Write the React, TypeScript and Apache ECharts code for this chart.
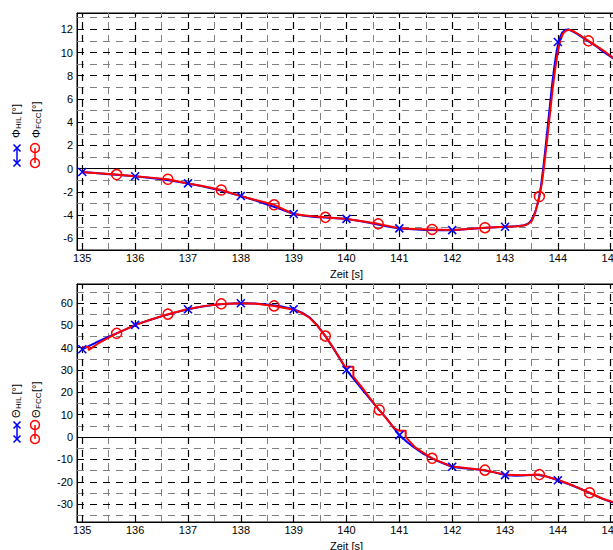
import React, { useEffect, useRef } from 'react';
import * as echarts from 'echarts';

const FONT = '"Liberation Sans", Arial, Helvetica, sans-serif';

// axis ticks / labels
const xMajor = [135, 136, 137, 138, 139, 140, 141, 142, 143, 144, 145];
const xMinor = [135.5, 136.5, 137.5, 138.5, 139.5, 140.5, 141.5, 142.5, 143.5, 144.5];
const phiMajor = [-6, -4, -2, 0, 2, 4, 6, 8, 10, 12];
const phiMinor = [-5, -3, -1, 1, 3, 5, 7, 9, 11, 13];
const thetaMajor = [-30, -20, -10, 0, 10, 20, 30, 40, 50, 60];
const thetaMinor = [-35, -25, -15, -5, 5, 15, 25, 35, 45, 55, 65];

// Phi HIL (blue)
const phiHilT = [135.0, 135.25, 135.5, 135.75, 136.0, 136.25, 136.5, 136.75, 137.0, 137.25, 137.5, 137.75, 138.0, 138.25, 138.5, 138.75, 139.0, 139.2, 139.4, 139.6, 139.8, 140.0, 140.25, 140.5, 140.75, 141.0, 141.25, 141.5, 141.75, 142.0, 142.25, 142.5, 142.75, 143.0, 143.2, 143.35, 143.45, 143.52, 143.58, 143.63, 143.68, 143.73, 143.78, 143.83, 143.88, 143.93, 143.98, 144.03, 144.08, 144.14, 144.2, 144.27, 144.35, 144.45, 144.55, 144.65, 144.75, 144.85, 144.95, 145.05, 145.1];
const phiHilV = [-0.29, -0.38, -0.48, -0.56, -0.65, -0.78, -0.92, -1.08, -1.27, -1.5, -1.76, -2.04, -2.35, -2.7, -3.08, -3.48, -3.9, -4.05, -4.15, -4.2, -4.26, -4.32, -4.5, -4.72, -4.95, -5.14, -5.22, -5.27, -5.29, -5.29, -5.22, -5.12, -5.06, -5.0, -4.96, -4.9, -4.7, -4.3, -3.6, -2.8, -1.5, 0.3, 2.4, 4.6, 6.8, 8.7, 10.2, 11.2, 11.7, 11.95, 11.98, 11.85, 11.65, 11.35, 11.05, 10.75, 10.45, 10.1, 9.8, 9.5, 9.35];
const phiHilMarkT = [135, 136, 137, 138, 139, 140, 141, 142, 143, 144];
const phiHilMarkV = [-0.29, -0.65, -1.27, -2.35, -3.9, -4.32, -5.14, -5.29, -5.0, 10.9];

// Phi FCC (red)
const phiFccT = [135.0, 135.3, 135.65, 136.0, 136.3, 136.62, 137.0, 137.3, 137.63, 138.0, 138.3, 138.63, 139.0, 139.3, 139.6, 140.0, 140.3, 140.6, 141.0, 141.3, 141.62, 142.0, 142.3, 142.62, 143.0, 143.25, 143.4, 143.5, 143.57, 143.65, 143.7, 143.75, 143.8, 143.85, 143.9, 143.95, 144.0, 144.05, 144.1, 144.16, 144.22, 144.3, 144.4, 144.5, 144.58, 144.7, 144.8, 144.9, 145.0, 145.1];
const phiFccV = [-0.3, -0.4, -0.51, -0.66, -0.77, -0.91, -1.28, -1.52, -1.84, -2.36, -2.72, -3.11, -3.9, -4.08, -4.19, -4.33, -4.52, -4.75, -5.12, -5.2, -5.23, -5.28, -5.2, -5.08, -5.0, -4.96, -4.85, -4.55, -3.8, -2.4, -1.2, 0.6, 2.6, 4.7, 6.8, 8.6, 10.1, 11.1, 11.65, 11.9, 11.95, 11.82, 11.55, 11.25, 11.0, 10.65, 10.35, 10.05, 9.7, 9.4];
const phiFccMarkT = [135.65, 136.62, 137.63, 138.63, 139.6, 140.6, 141.62, 142.62, 143.65, 144.58];
const phiFccMarkV = [-0.51, -0.91, -1.84, -3.11, -4.19, -4.75, -5.23, -5.08, -2.4, 11.0];

// Theta HIL (blue)
const thetaHilT = [135.0, 135.25, 135.5, 135.75, 136.0, 136.25, 136.5, 136.75, 137.0, 137.25, 137.5, 137.75, 138.0, 138.25, 138.5, 138.75, 139.0, 139.15, 139.3, 139.45, 139.6, 139.75, 139.9, 140.0, 140.15, 140.3, 140.45, 140.6, 140.75, 140.9, 141.0, 141.15, 141.3, 141.45, 141.6, 141.75, 141.9, 142.0, 142.2, 142.4, 142.6, 142.8, 143.0, 143.2, 143.4, 143.6, 143.8, 144.0, 144.2, 144.4, 144.6, 144.8, 145.0, 145.1];
const thetaHilV = [39.3, 42.2, 44.9, 47.4, 50.2, 52.2, 54.0, 55.7, 57.2, 58.3, 59.2, 59.7, 59.9, 59.8, 59.3, 58.5, 57.2, 55.8, 53.6, 50.0, 45.2, 39.8, 34.0, 30.0, 25.6, 21.2, 16.9, 12.6, 8.6, 3.9, 0.9, -2.3, -5.0, -7.4, -9.3, -11.0, -12.4, -13.3, -13.9, -14.3, -14.8, -15.8, -17.0, -17.3, -17.1, -16.9, -17.7, -19.3, -21.0, -22.9, -25.0, -27.2, -29.0, -29.7];
const thetaHilMarkT = [135, 136, 137, 138, 139, 140, 141, 142, 143, 144];
const thetaHilMarkV = [39.3, 50.2, 57.2, 59.9, 57.2, 30.0, 0.9, -13.3, -17.0, -19.3];

// Theta FCC (red)
const thetaFccT = [135.0, 135.12, 135.12, 135.3, 135.65, 136.0, 136.3, 136.62, 137.0, 137.3, 137.63, 138.0, 138.3, 138.63, 139.0, 139.15, 139.3, 139.45, 139.6, 139.75, 139.9, 139.97, 140.13, 140.13, 140.3, 140.45, 140.62, 140.75, 140.9, 141.0, 141.12, 141.12, 141.3, 141.62, 142.0, 142.3, 142.62, 143.0, 143.3, 143.65, 144.0, 144.3, 144.6, 144.85, 145.1];
const thetaFccV = [40.3, 40.3, 38.9, 41.9, 46.4, 50.1, 52.6, 55.0, 57.3, 58.6, 59.6, 59.9, 59.7, 58.7, 57.0, 55.6, 53.4, 49.8, 45.2, 39.9, 34.3, 31.5, 31.5, 27.0, 22.0, 17.2, 12.1, 8.5, 4.0, 2.8, 2.8, 0.0, -4.6, -9.5, -13.2, -14.0, -14.8, -16.8, -17.1, -16.8, -19.1, -21.8, -24.9, -27.6, -29.5];
const thetaFccMarkT = [135.65, 136.62, 137.63, 138.63, 139.6, 140.62, 141.62, 142.62, 143.65, 144.6];
const thetaFccMarkV = [46.4, 55.0, 59.6, 58.7, 45.2, 12.1, -9.5, -14.8, -16.8, -24.9];

const pair = (t: number[], v: number[]) => t.map((x, i) => [x, v[i]]);

const BLUE = '#0000ff';
const RED = '#ff0000';
const X_SYMBOL = 'path://M0,0L10,10M10,0L0,10';

function gridLineData(major: number[], minor: number[], xMaj: number[], xMin: number[]) {
  const majStyle = { color: '#000', type: [7, 6], width: 1.2 };
  const minStyle = { color: '#808080', type: [7, 6], width: 1 };
  return [
    ...xMin.map((x) => ({ xAxis: x, lineStyle: minStyle })),
    ...minor.map((y) => ({ yAxis: y, lineStyle: minStyle })),
    ...xMaj.map((x) => ({ xAxis: x, lineStyle: majStyle })),
    ...major.map((y) => ({ yAxis: y, lineStyle: majStyle })),
    { yAxis: 0, lineStyle: { color: '#000', type: 'solid', width: 1 } },
  ];
}

function xMarkEls(cx: number, cy: number) {
  const s = 3.5;
  return [
    { type: 'line', shape: { x1: cx - s, y1: cy - s, x2: cx + s, y2: cy + s }, style: { stroke: BLUE, lineWidth: 1.6 } },
    { type: 'line', shape: { x1: cx - s, y1: cy + s, x2: cx + s, y2: cy - s }, style: { stroke: BLUE, lineWidth: 1.6 } },
  ];
}

function labelGroup(x0: number, y0: number, sym: string, sub: string, subW: number) {
  return {
    type: 'group',
    x: x0,
    y: y0,
    rotation: Math.PI / 2,
    children: [
      { type: 'text', x: 0, y: 0, style: { text: sym, fontSize: 11, fontFamily: FONT, fill: '#000', align: 'left', verticalAlign: 'middle' } },
      { type: 'text', x: 9, y: 3, style: { text: sub, fontSize: 8, fontFamily: FONT, fill: '#000', align: 'left', verticalAlign: 'middle' } },
      { type: 'text', x: 9 + subW + 2, y: 0, style: { text: '[°]', fontSize: 11, fontFamily: FONT, fill: '#000', align: 'left', verticalAlign: 'middle' } },
    ],
  };
}

function legendEls(textY: number, m1: number, m2: number, sym: string) {
  return [
    labelGroup(15.5, textY, sym, 'HIL', 12.5),
    labelGroup(35.5, textY, sym, 'FCC', 15),
    { type: 'line', shape: { x1: 17, y1: m1, x2: 17, y2: m2 }, style: { stroke: BLUE, lineWidth: 1.5 } },
    ...xMarkEls(17, m1),
    ...xMarkEls(17, m2),
    { type: 'line', shape: { x1: 35, y1: m1, x2: 35, y2: m2 }, style: { stroke: RED, lineWidth: 1.5 } },
    { type: 'circle', shape: { cx: 35, cy: m1, r: 4.5 }, style: { stroke: RED, lineWidth: 1.5, fill: 'none' } },
    { type: 'circle', shape: { cx: 35, cy: m2, r: 4.5 }, style: { stroke: RED, lineWidth: 1.5, fill: 'none' } },
  ];
}

function makeXAxes(gi: number) {
  const common = {
    type: 'value',
    gridIndex: gi,
    min: 134.9,
    max: 145.1,
    splitLine: { show: false },
    axisLine: { show: true, onZero: false, lineStyle: { color: '#000', width: 1 } },
    axisTick: { show: true, inside: true, length: 5, customValues: [...xMajor, ...xMinor], lineStyle: { color: '#000', width: 1 } },
  };
  return [
    {
      ...common,
      position: 'bottom',
      axisLabel: { show: true, customValues: xMajor, color: '#000', fontSize: 11, fontFamily: FONT, margin: 2 },
      name: 'Zeit [s]',
      nameLocation: 'middle',
      nameGap: 18,
      nameTextStyle: { color: '#000', fontSize: 11, fontFamily: FONT },
    },
    { ...common, position: 'top', axisLabel: { show: false } },
  ];
}

function makeYAxis(gi: number, min: number, max: number, major: number[], minor: number[]) {
  return {
    type: 'value',
    gridIndex: gi,
    min,
    max,
    splitLine: { show: false },
    axisLine: { show: true, onZero: false, lineStyle: { color: '#000', width: 1 } },
    axisTick: { show: true, inside: true, length: 5, customValues: [...major, ...minor], lineStyle: { color: '#000', width: 1 } },
    axisLabel: { show: true, customValues: major, color: '#000', fontSize: 11, fontFamily: FONT, margin: 4 },
  };
}

function seriesFor(gi: number, hil: number[][], fcc: number[][], hilM: number[][], fccM: number[][], major: number[], minor: number[]) {
  const xi = gi * 2;
  return [
    {
      type: 'line', xAxisIndex: xi, yAxisIndex: gi, data: [], silent: true, z: 1,
      markLine: { silent: true, z: 1, symbol: ['none', 'none'], label: { show: false }, animation: false, data: gridLineData(major, minor, xMajor, xMinor) },
    },
    { type: 'line', xAxisIndex: xi, yAxisIndex: gi, data: hil, showSymbol: false, lineStyle: { color: BLUE, width: 2 }, z: 2, silent: true },
    { type: 'line', xAxisIndex: xi, yAxisIndex: gi, data: fcc, showSymbol: false, lineStyle: { color: RED, width: 2 }, z: 3, silent: true },
    {
      type: 'scatter', xAxisIndex: xi, yAxisIndex: gi, data: hilM, symbol: X_SYMBOL, symbolSize: 8, z: 4, silent: true,
      itemStyle: { color: 'rgba(0,0,0,0)', borderColor: BLUE, borderWidth: 1.6, opacity: 1 },
    },
    {
      type: 'scatter', xAxisIndex: xi, yAxisIndex: gi, data: fccM, symbol: 'circle', symbolSize: 10, z: 5, silent: true,
      itemStyle: { color: 'rgba(0,0,0,0)', borderColor: RED, borderWidth: 1.5, opacity: 1 },
    },
  ];
}

export default function App() {
  const ref = useRef<HTMLDivElement>(null);
  useEffect(() => {
    if (!ref.current) return;
    const chart = echarts.init(ref.current, undefined, { renderer: 'svg' });
    chart.setOption({
      animation: false,
      backgroundColor: '#fff',
      grid: [
        { left: 77, top: 13, width: 539, height: 237, show: true, borderColor: '#000', borderWidth: 1, backgroundColor: 'transparent' },
        { left: 77, top: 284, width: 539, height: 238, show: true, borderColor: '#000', borderWidth: 1, backgroundColor: 'transparent' },
      ],
      xAxis: [...makeXAxes(0), ...makeXAxes(1)],
      yAxis: [
        makeYAxis(0, -7, 13.4, phiMajor, phiMinor),
        makeYAxis(1, -38, 68.5, thetaMajor, thetaMinor),
      ],
      series: [
        ...seriesFor(0, pair(phiHilT, phiHilV), pair(phiFccT, phiFccV), pair(phiHilMarkT, phiHilMarkV), pair(phiFccMarkT, phiFccMarkV), phiMajor, phiMinor),
        ...seriesFor(1, pair(thetaHilT, thetaHilV), pair(thetaFccT, thetaFccV), pair(thetaHilMarkT, thetaHilMarkV), pair(thetaFccMarkT, thetaFccMarkV), thetaMajor, thetaMinor),
      ],
      graphic: [
        ...legendEls(138, 148, 163, 'Φ'),
        ...legendEls(418, 425, 439, 'Θ'),
      ],
    });
    return () => chart.dispose();
  }, []);
  return (
    <div style={{ position: 'fixed', left: 0, top: 0, width: 613, height: 550, overflow: 'hidden', background: '#fff' }}>
      <div ref={ref} style={{ width: 640, height: 570 }} />
    </div>
  );
}
